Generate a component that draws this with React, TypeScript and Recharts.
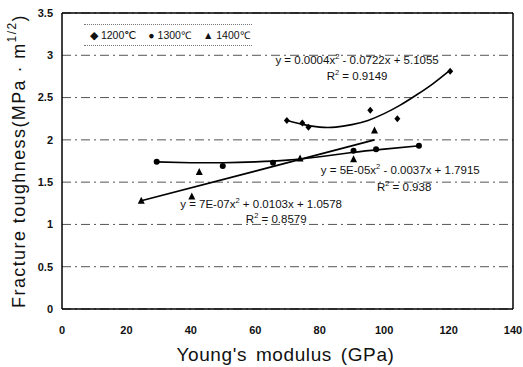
import React from 'react';
import {
  ComposedChart,
  Scatter,
  Line,
  XAxis,
  YAxis,
  CartesianGrid,
  ReferenceLine,
  ReferenceDot,
  Label,
} from 'recharts';

// Measured points (Young's modulus GPa, fracture toughness MPa·m^1/2)
const x1200 = [69.8, 74.6, 76.5, 95.7, 104.1, 120.5];
const y1200 = [2.23, 2.2, 2.15, 2.35, 2.25, 2.81];
const x1300 = [29.4, 49.9, 65.5, 90.5, 97.5, 110.8];
const y1300 = [1.74, 1.69, 1.73, 1.87, 1.89, 1.93];
const x1400 = [24.6, 40.3, 42.6, 73.9, 90.5, 97];
const y1400 = [1.28, 1.33, 1.62, 1.78, 1.77, 2.11];

// Trend lines
const trendX1200 = [70, 75, 80, 85, 90, 95, 100, 105, 110, 115, 120];
const trendY1200 = [2.23, 2.18, 2.15, 2.15, 2.18, 2.23, 2.31, 2.41, 2.53, 2.66, 2.81];
const trendX1300 = [29, 40, 50, 60, 70, 80, 90, 100, 111];
const trendY1300 = [1.74, 1.73, 1.73, 1.74, 1.76, 1.8, 1.85, 1.89, 1.93];
const trendX1400 = [24.6, 60, 97];
const trendY1400 = [1.28, 1.63, 2.0];

const xTicks = [0, 20, 40, 60, 80, 100, 120, 140];
const yTicks = [0, 0.5, 1, 1.5, 2, 2.5, 3, 3.5];

const toPoints = (xs: number[], ys: number[]) => xs.map((x, i) => ({ x, y: ys[i] }));

const FONT = '"Liberation Sans", Arial, sans-serif';

const Diamond = ({ cx, cy }: any) => (
  <polygon points={`${cx},${cy - 3.5} ${cx + 3},${cy} ${cx},${cy + 3.5} ${cx - 3},${cy}`} fill="#000" />
);
const Dot = ({ cx, cy }: any) => <circle cx={cx} cy={cy} r={3} fill="#000" />;
const Tri = ({ cx, cy }: any) => (
  <polygon points={`${cx},${cy - 4} ${cx + 3.5},${cy + 3} ${cx - 3.5},${cy + 3}`} fill="#000" />
);

// equation text with a superscript 2
const eqText = (a: string, b: string) => ({ cx, cy }: any) => (
  <text x={cx} y={cy} textAnchor="middle" fontFamily={FONT} fontSize={11.5} fill="#111">
    {a}
    <tspan dy={-5} fontSize={7.5}>2</tspan>
    <tspan dy={5}>{b}</tspan>
  </text>
);

const LegendBox = () => (
  <div
    style={{
      position: 'absolute',
      left: 84,
      top: 24,
      width: 168,
      height: 22,
      boxSizing: 'border-box',
      borderTop: '1px dotted #777',
      borderBottom: '1px dotted #777',
      paddingLeft: 6,
      fontFamily: FONT,
      fontSize: 10.5,
      color: '#111',
      display: 'flex',
      gap: 12,
      alignItems: 'center',
    }}
  >
    <span>◆ 1200℃</span>
    <span>● 1300℃</span>
    <span>▲ 1400℃</span>
  </div>
);

export default function App() {
  return (
    <div style={{ position: 'absolute', left: 0, top: 0, width: 523, height: 367, background: '#fff' }}>
      <ComposedChart width={523} height={367} margin={{ top: 13, right: 10, bottom: 0, left: 0 }}>
        <CartesianGrid vertical={false} stroke="#555" strokeDasharray="9 4 2 4" />
        <XAxis
          type="number"
          dataKey="x"
          domain={[0, 140]}
          ticks={xTicks}
          height={58}
          tickSize={0}
          tickMargin={17}
          axisLine={{ stroke: '#000', strokeWidth: 1.5 }}
          tick={{ fontFamily: FONT, fontSize: 11, fill: '#111', fontWeight: 'bold' }}
        >
          <Label
            content={({ viewBox }: any) => (
              <text
                x={viewBox.x + viewBox.width / 2 - 2}
                y={viewBox.y + 52}
                textAnchor="middle"
                fontFamily={FONT}
                fontSize={19}
                letterSpacing={0.6}
                wordSpacing={3}
                fill="#111"
              >
                Young's modulus (GPa)
              </text>
            )}
          />
        </XAxis>
        <YAxis
          type="number"
          domain={[0, 3.5]}
          ticks={yTicks}
          width={62}
          tickSize={0}
          tickMargin={9}
          axisLine={{ stroke: '#000', strokeWidth: 1.5 }}
          tick={{ fontFamily: FONT, fontSize: 11, fill: '#111', fontWeight: 'bold' }}
        >
          <Label
            content={({ viewBox }: any) => {
              const cx = 19;
              const cy = viewBox.y + viewBox.height / 2;
              return (
                <text
                  x={cx}
                  y={cy}
                  transform={`rotate(-90 ${cx} ${cy})`}
                  textAnchor="middle"
                  dominantBaseline="central"
                  fontFamily={FONT}
                  fontSize={18}
                  letterSpacing={1.4}
                  fill="#111"
                >
                  Fracture toughness(MPa · m
                  <tspan dy={-7} fontSize={12}>1/2</tspan>
                  <tspan dy={7}>)</tspan>
                </text>
              );
            }}
          />
        </YAxis>
        <ReferenceLine y={3.5} stroke="#000" strokeWidth={1.5} />
        <ReferenceLine x={140} stroke="#000" strokeWidth={1.5} />

        <Line data={toPoints(trendX1200, trendY1200)} dataKey="y" type="natural" stroke="#000" strokeWidth={1.6} dot={false} isAnimationActive={false} />
        <Line data={toPoints(trendX1300, trendY1300)} dataKey="y" type="natural" stroke="#000" strokeWidth={1.6} dot={false} isAnimationActive={false} />
        <Line data={toPoints(trendX1400, trendY1400)} dataKey="y" type="linear" stroke="#000" strokeWidth={1.6} dot={false} isAnimationActive={false} />

        <Scatter data={toPoints(x1200, y1200)} dataKey="y" shape={Diamond} isAnimationActive={false} />
        <Scatter data={toPoints(x1300, y1300)} dataKey="y" shape={Dot} isAnimationActive={false} />
        <Scatter data={toPoints(x1400, y1400)} dataKey="y" shape={Tri} isAnimationActive={false} />

        <ReferenceDot x={91.6} y={2.9} r={0} shape={eqText('y = 0.0004x', ' - 0.0722x + 5.1055')} />
        <ReferenceDot x={91.6} y={2.71} r={0} shape={eqText('R', ' = 0.9149')} />
        <ReferenceDot x={105} y={1.6} r={0} shape={eqText('y = 5E-05x', ' - 0.0037x + 1.7915')} />
        <ReferenceDot x={106.2} y={1.4} r={0} shape={eqText('R', ' = 0.938')} />
        <ReferenceDot x={61.8} y={1.2} r={0} shape={eqText('y = 7E-07x', ' + 0.0103x + 1.0578')} />
        <ReferenceDot x={66.5} y={1.02} r={0} shape={eqText('R', ' = 0.8579')} />
      </ComposedChart>
      <LegendBox />
    </div>
  );
}
